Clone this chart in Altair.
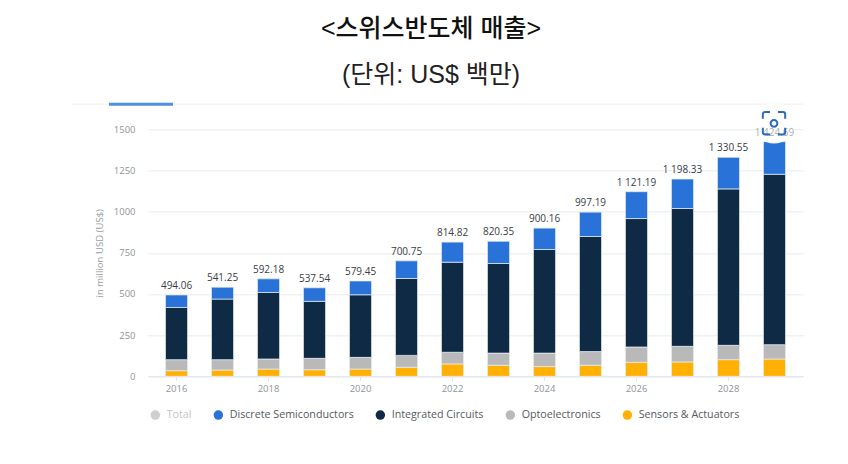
import altair as alt
import pandas as pd

years = list(range(2016, 2030))
sensors = [34, 38, 44, 40, 44, 55, 75, 67, 59, 67, 85, 87, 101, 105]
opto = [67, 63, 61, 69, 71, 72, 71, 74, 82, 83, 93, 95, 87, 87]
integrated = [317, 368, 404, 346, 380, 467, 547, 544, 629, 699, 780, 837, 950, 1035]
discrete = [76, 72, 83, 82.5, 84, 107, 122, 135, 130, 148, 163, 179, 192, 198]
totals = [494.06, 541.25, 592.18, 537.54, 579.45, 700.75, 814.82, 820.35, 900.16,
          997.19, 1121.19, 1198.33, 1330.55, 1424.69]
tick_years = ["2016", "2018", "2020", "2022", "2024", "2026", "2028"]
series_names = ["Total", "Discrete Semiconductors", "Integrated Circuits", "Optoelectronics", "Sensors & Actuators"]
series_colors = ["#cfcfcf", "#2872d8", "#0f2a44", "#b9b9b9", "#ffb000"]
title_1 = "<스위스반도체 매출>"
title_2 = "(단위: US$ 백만)"
y_title = "in million USD (US$)"

rows = []
for i, yr in enumerate(years):
    for order, (name, vals) in enumerate([("Sensors & Actuators", sensors), ("Optoelectronics", opto),
                                          ("Integrated Circuits", integrated), ("Discrete Semiconductors", discrete)]):
        rows.append({"year": str(yr), "series": name, "value": vals[i], "ord": order})
df = pd.DataFrame(rows)
tot = pd.DataFrame({"year": [str(y) for y in years], "total": totals,
                    "label": [f"{t:,.2f}".replace(",", " ") for t in totals]})

FONT = "Open Sans"
TFONT = "Liberation Sans, Noto Sans CJK KR"
x_scale = alt.Scale(paddingInner=0.52, paddingOuter=0.38)
y_scale = alt.Scale(domain=[0, 1500], nice=False)

bars = alt.Chart(df).mark_bar(stroke="#e8eef5", strokeWidth=0.7).encode(
    x=alt.X("year:N", scale=x_scale, title=None,
            axis=alt.Axis(values=tick_years, labelAngle=0, labelColor="#8f949a", labelFont=FONT, labelFontSize=9.5,
                          domainColor="#dde5ee", tickColor="#dde5ee", tickSize=4, labelPadding=3, grid=False)),
    y=alt.Y("value:Q", stack="zero", scale=y_scale,
            axis=alt.Axis(title=y_title, values=[0, 250, 500, 750, 1000, 1250, 1500], format="d",
                          labelColor="#8f949a", labelFont=FONT, labelFontSize=9.5, titleFont=FONT, titleFontSize=9.6,
                          titleFontWeight="normal", titleColor="#9a9ea3", domain=False, ticks=False,
                          labelPadding=13, titlePadding=9, gridColor="#eef1f5", gridWidth=1.5)),
    color=alt.Color("series:N", scale=alt.Scale(domain=series_names, range=series_colors),
                    legend=alt.Legend(orient="none", legendX=2, legendY=280, direction="horizontal", columns=5,
                                      title=None, symbolType="circle", symbolSize=90, symbolStrokeWidth=0,
                                      labelFont=FONT, labelFontSize=10.7, columnPadding=21, labelOffset=6,
                                      labelColor={"expr": "datum.label === 'Total' ? '#c4c4c4' : '#555b62'"})),
    order=alt.Order("ord:Q"),
)

labels = alt.Chart(tot).transform_filter("datum.year !== '2029'").mark_text(
    font=FONT, fontSize=10, color="#3b4046", dy=-9).encode(
    x=alt.X("year:N", scale=x_scale), y=alt.Y("total:Q", scale=y_scale), text="label:N")
last_label = alt.Chart(tot).transform_filter("datum.year === '2029'").mark_text(
    font=FONT, fontSize=10, color="#a9adb2", dy=-9).encode(
    x=alt.X("year:N", scale=x_scale), y=alt.Y("total:Q", scale=y_scale), text="label:N")

one = alt.Data(values=[{"a": 1}])
top_line = alt.Chart(one).mark_rule(color="#f3f4f6", strokeWidth=1.5).encode(
    x=alt.value(-76), x2=alt.value(655), y=alt.value(-25))
blue_line = alt.Chart(one).mark_rule(color="#4d8fe6", strokeWidth=3).encode(
    x=alt.value(-39), x2=alt.value(25), y=alt.value(-25))
t1 = alt.Chart(one).mark_text(text=title_1, font=TFONT, fontSize=25, fontWeight=500, color="#111111").encode(
    x=alt.value(283), y=alt.value(-100))
t2 = alt.Chart(one).mark_text(text=title_2, font=TFONT, fontSize=25, color="#222222").encode(
    x=alt.value(283), y=alt.value(-54))
circle = alt.Chart(one).mark_point(shape="circle", filled=True, fill="white", opacity=0.95, size=1650, strokeWidth=0).encode(
    x=alt.value(626), y=alt.value(-6))
icon_path = ("M-1,-0.4 L-1,-0.8 Q-1,-1 -0.8,-1 L-0.35,-1 M0.35,-1 L0.8,-1 Q1,-1 1,-0.8 L1,-0.4 "
             "M1,0.4 L1,0.8 Q1,1 0.8,1 L0.35,1 M-0.35,1 L-0.8,1 Q-1,1 -1,0.8 L-1,0.4 "
             "M0.3,0 A0.3,0.3 0 1 1 -0.3,0 A0.3,0.3 0 1 1 0.3,0 Z")
icon = alt.Chart(one).mark_point(shape=icon_path, filled=False, stroke="#2a6db8", strokeWidth=2, size=500, opacity=1).encode(
    x=alt.value(626), y=alt.value(-6))

chart = alt.layer(bars, labels, top_line, blue_line, circle, last_label, icon, t1, t2).properties(
    width=655, height=247,
    padding={"left": 140, "top": 121.3, "right": 37, "bottom": 79},
    autosize=alt.AutoSizeParams(type="none"),
).configure_view(stroke=None)

chart.save("out.html", embed_options={"renderer": "svg", "actions": False})
